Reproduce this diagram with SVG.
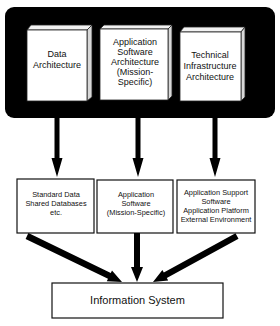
<svg xmlns="http://www.w3.org/2000/svg" width="280" height="326" viewBox="0 0 280 326">
<style>
.front{fill:#fff;stroke:#222;stroke-width:0.8}
.top{fill:#f2f2f2;stroke:#222;stroke-width:0.8}
.side{fill:#d8d8d8;stroke:#222;stroke-width:0.8}
.box{fill:#fff;stroke:#111;stroke-width:1.2}
text{font-family:"Liberation Sans",Arial,sans-serif;fill:#111;text-anchor:middle}
.t9{font-size:9px}
.t7{font-size:7.4px}
.t11{font-size:11px}
</style>
<rect x="5" y="7" width="270" height="111" rx="9" fill="#000"/>
<g id="data-architecture">
<polygon class="top" points="27,30 31,25 92,25 87,30"/>
<polygon class="side" points="87,30 92,25 92,97 87,101"/>
<rect class="front" x="27" y="30" width="60" height="71"/>
<text class="t9" x="57" y="57">Data</text>
<text class="t9" x="57" y="68">Architecture</text>
</g>
<g id="application-software-architecture">
<polygon class="top" points="100,29 104,25 172,25 168,29"/>
<polygon class="side" points="168,29 172,25 172,96 168,100"/>
<rect class="front" x="100" y="29" width="68" height="71"/>
<text class="t9" x="135" y="45">Application</text>
<text class="t9" x="135" y="55">Software</text>
<text class="t9" x="135" y="65">Architecture</text>
<text class="t9" x="135" y="75">(Mission-</text>
<text class="t9" x="135" y="85">Specific)</text>
</g>
<g id="technical-infrastructure-architecture">
<polygon class="top" points="180,32 184,27 245,27 241,32"/>
<polygon class="side" points="241,32 245,27 245,97 241,101"/>
<rect class="front" x="180" y="32" width="61" height="69"/>
<text class="t9" x="210" y="58">Technical</text>
<text class="t9" x="210" y="69">Infrastructure</text>
<text class="t9" x="210" y="80">Architecture</text>
</g>
<g id="standard-data">
<rect class="box" x="17" y="179" width="77" height="54"/>
<text class="t7" x="56" y="197">Standard Data</text>
<text class="t7" x="56" y="206">Shared Databases</text>
<text class="t7" x="56" y="215">etc.</text>
</g>
<g id="application-software">
<rect class="box" x="97" y="180" width="76" height="53"/>
<text class="t7" x="136" y="197">Application</text>
<text class="t7" x="136" y="206">Software</text>
<text class="t7" x="136" y="215">(Mission-Specific)</text>
</g>
<g id="application-support">
<rect class="box" x="177" y="180" width="78" height="53"/>
<text class="t7" x="216" y="195">Application Support</text>
<text class="t7" x="216" y="204">Software</text>
<text class="t7" x="216" y="213">Application Platform</text>
<text class="t7" x="216" y="222">External Environment</text>
</g>
<g id="information-system">
<rect class="box" x="52" y="283" width="171" height="35"/>
<text class="t11" x="137.5" y="304">Information System</text>
</g>
<g id="connectors" fill="#000" stroke="none">
<polygon points="54.5,118 59.5,118 59.5,158 62.5,158 57,177 51.5,158 54.5,158"/>
<polygon points="135.5,118 140.5,118 140.5,158 143.5,158 138,177 132.5,158 135.5,158"/>
<polygon points="212.5,118 217.5,118 217.5,158 220.5,158 215,177 209.5,158 212.5,158"/>
<polygon points="134,233 140,233 140,267 143,267 137,282 131,267 134,267"/>
<polygon points="25.6,238.9 108,278.8 106.8,281.3 122,282 112,270.5 110.8,273 28.4,233.1"/>
<polygon points="235.5,233.2 163.8,272.5 162.4,270 153,282 168.2,280.6 166.8,278.1 238.5,238.8"/>
</g>
</svg>
